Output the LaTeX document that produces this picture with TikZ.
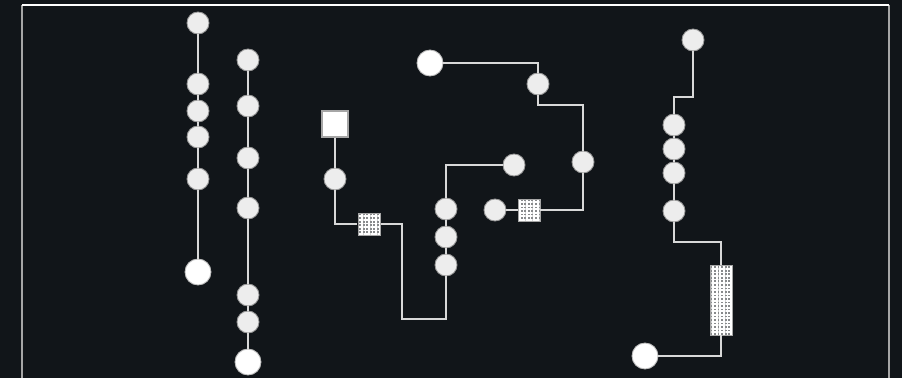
\documentclass[tikz,border=0pt]{standalone}
\usepackage{tikz}
\usepackage{xcolor}
\usetikzlibrary{positioning,patterns.meta}

\definecolor{bgdark}{HTML}{111519}
\definecolor{wirecol}{HTML}{D8D8D8}
\definecolor{beadfill}{HTML}{EDEDED}

\begin{document}
\begin{tikzpicture}[
    x=0.02cm,
    y=-0.02cm,
    wire/.style={draw=wirecol, line width=1.1pt}
]

\tikzset{
    bead/.style={
        circle,
        draw=gray!80,
        fill=beadfill,
        line width=0.5pt,
        minimum size=0.44cm,
        inner sep=0pt
    },
    term/.style={
        circle,
        draw=gray!50,
        fill=white,
        line width=0.5pt,
        minimum size=0.52cm,
        inner sep=0pt
    },
    block/.style={
        rectangle,
        draw=gray!70,
        fill=white,
        line width=0.6pt,
        minimum size=0.52cm,
        inner sep=0pt
    },
    mesh/.style={
        rectangle,
        draw=gray!70,
        line width=0.5pt,
        preaction={fill=bgdark!50},
        pattern={Hatch[angle=0,distance=2pt,line width=1pt]},
        pattern color=white,
        minimum width=0.44cm,
        minimum height=0.44cm,
        inner sep=0pt
    }
}

\useasboundingbox (0,0) rectangle (902,378);
\clip (0,0) rectangle (902,378);
\fill[bgdark] (0,0) rectangle (902,378);

% frame
\draw[gray!70, line width=1pt] (22,5) -- (22,400);
\draw[gray!70, line width=1pt] (889,5) -- (889,400);
\draw[white, line width=0.8pt] (22,5) -- (889,5);

% first column
\node[bead] (a1) at (198,23) {};
\node[bead] (a2) at (198,84) {};
\node[bead] (a3) at (198,111) {};
\node[bead] (a4) at (198,137) {};
\node[bead] (a5) at (198,179) {};
\node[term] (a6) at (198,272) {};

% second column
\node[bead] (b1) at (248,60) {};
\node[bead] (b2) at (248,106) {};
\node[bead] (b3) at (248,158) {};
\node[bead] (b4) at (248,208) {};
\node[bead] (b5) at (248,295) {};
\node[bead] (b6) at (248,322) {};
\node[term] (b7) at (248,362) {};

% middle part
\node[block] (sq) at (335,124) {};
\node[bead] (m1) at (335,179) {};
\node[mesh] (hx1) at (369,224) {};
\node[bead] (m2) at (446,209) {};
\node[bead] (m3) at (446,237) {};
\node[bead] (m4) at (446,265) {};
\node[bead] (m5) at (514,165) {};
\coordinate (t1) at (402,319);

\node[term] (w2) at (430,63) {};
\node[bead] (r1) at (538,84) {};
\node[bead] (r2) at (583,162) {};
\node[mesh] (hx2) at (529,210) {};
\node[bead] (m6) at (495,210) {};
\coordinate (t2) at (583,105);

% right part
\node[bead] (s1) at (693,40) {};
\node[bead] (s2) at (674,125) {};
\node[bead] (s3) at (674,149) {};
\node[bead] (s4) at (674,173) {};
\node[bead] (s5) at (674,211) {};
\node[mesh, minimum height=1.4cm] (bar) at (721,300) {};
\node[term] (w4) at (645,356) {};
\coordinate (t3) at (674,97);
\coordinate (t4) at (721,242);

\draw[wire] (a1) -- (a2) -- (a3) -- (a4) -- (a5) -- (a6);
\draw[wire] (b1) -- (b2) -- (b3) -- (b4) -- (b5) -- (b6) -- (b7);

\draw[wire] (sq) -- (m1);
\draw[wire] (m1) |- (hx1);
\draw[wire] (hx1) -| (t1) -| (m4);
\draw[wire] (m4) -- (m3) -- (m2);
\draw[wire] (m2) |- (m5);

\draw[wire] (w2) -| (r1);
\draw[wire] (r1) |- (t2) -- (r2);
\draw[wire] (r2) |- (hx2);
\draw[wire] (hx2) -- (m6);

\draw[wire] (s1) |- (t3) -- (s2);
\draw[wire] (s2) -- (s3) -- (s4) -- (s5);
\draw[wire] (s5) |- (t4) -- (bar);
\draw[wire] (bar) |- (w4);

\end{tikzpicture}
\end{document}
